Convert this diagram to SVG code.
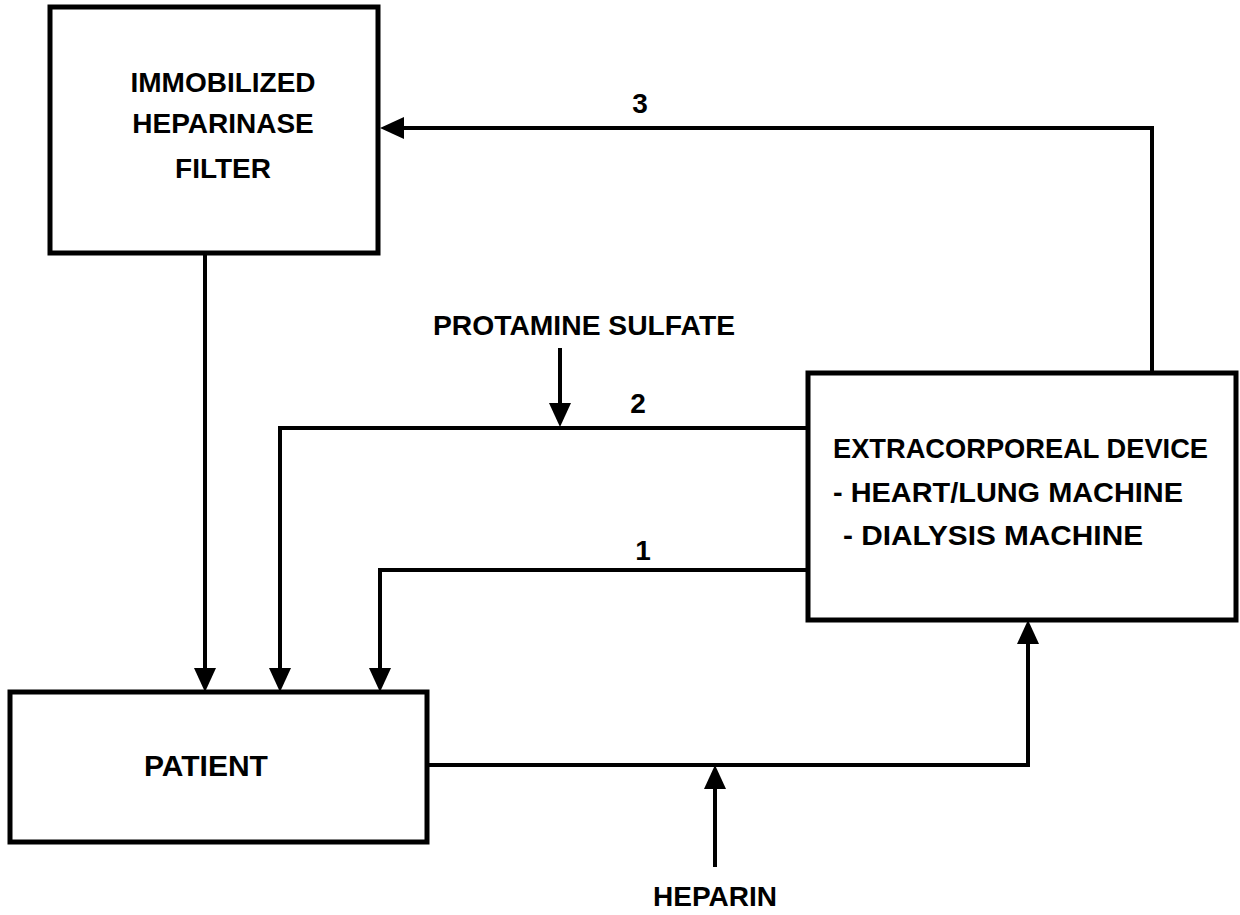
<svg xmlns="http://www.w3.org/2000/svg" width="1240" height="915" viewBox="0 0 1240 915">
<style>
  .box { fill: #ffffff; stroke: #000000; stroke-width: 5; }
  .wire { fill: none; stroke: #000000; stroke-width: 4; stroke-linejoin: miter; }
  .lbl { font-family: "Liberation Sans", Arial, sans-serif; font-weight: bold; font-size: 28px; fill: #000000; }
  .mid { text-anchor: middle; }
</style>
<defs>
  <marker id="arr" markerUnits="userSpaceOnUse" markerWidth="26" markerHeight="24" refX="12" refY="11" orient="auto" viewBox="0 0 26 24">
    <path d="M0,0 L24,11 L0,22 z" fill="#000000"/>
  </marker>
</defs>
<rect width="1240" height="915" fill="#ffffff"/>

<g id="connectors">
  <path class="wire" d="M205,253 L205,680" marker-end="url(#arr)"/>
  <path class="wire" d="M1152,373 L1152,128 L392,128" marker-end="url(#arr)"/>
  <path class="wire" d="M808,428 L280,428 L280,680" marker-end="url(#arr)"/>
  <path class="wire" d="M808,570 L380,570 L380,680" marker-end="url(#arr)"/>
  <path class="wire" d="M427,765 L1028,765 L1028,632" marker-end="url(#arr)"/>
  <path class="wire" d="M560,348 L560,415" marker-end="url(#arr)"/>
  <path class="wire" d="M715,867 L715,777" marker-end="url(#arr)"/>
  <text class="lbl mid" x="640" y="113">3</text>
  <text class="lbl mid" x="638" y="413">2</text>
  <text class="lbl mid" x="643" y="560">1</text>
  <text class="lbl" x="433" y="335" textLength="302" lengthAdjust="spacingAndGlyphs">PROTAMINE SULFATE</text>
  <text class="lbl mid" x="715" y="906">HEPARIN</text>
</g>

<g id="filter">
  <rect class="box" x="50" y="7" width="328" height="246"/>
  <text class="lbl mid" x="223" y="92">IMMOBILIZED</text>
  <text class="lbl mid" x="223" y="133">HEPARINASE</text>
  <text class="lbl mid" x="223" y="178">FILTER</text>
</g>

<g id="extracorporeal">
  <rect class="box" x="808" y="373" width="428" height="247"/>
  <text class="lbl" x="833" y="458" textLength="375" lengthAdjust="spacingAndGlyphs">EXTRACORPOREAL DEVICE</text>
  <text class="lbl" x="833" y="502" textLength="350" lengthAdjust="spacingAndGlyphs">- HEART/LUNG MACHINE</text>
  <text class="lbl" x="843" y="545" textLength="300" lengthAdjust="spacingAndGlyphs">- DIALYSIS MACHINE</text>
</g>

<g id="patient">
  <rect class="box" x="10" y="692" width="417" height="150"/>
  <text class="lbl mid" x="206" y="776" style="font-size:30px">PATIENT</text>
</g>
</svg>
